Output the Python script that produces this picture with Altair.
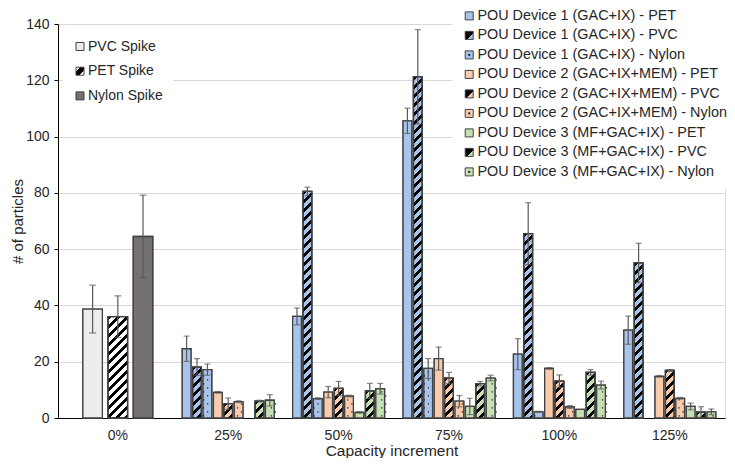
import altair as alt

# ---------------- data ----------------
categories = ["0%", "25%", "50%", "75%", "100%", "125%"]
device_categories = ["25%", "50%", "75%", "100%", "125%"]

spike_series = ["PVC Spike", "PET Spike", "Nylon Spike"]
spike_mean = [38.7, 36.0, 64.5]
spike_err = [8.5, 7.4, 14.7]

device_series = [
    "POU Device 1 (GAC+IX) - PET",
    "POU Device 1 (GAC+IX) - PVC",
    "POU Device 1 (GAC+IX) - Nylon",
    "POU Device 2 (GAC+IX+MEM) - PET",
    "POU Device 2 (GAC+IX+MEM) - PVC",
    "POU Device 2 (GAC+IX+MEM) - Nylon",
    "POU Device 3 (MF+GAC+IX) - PET",
    "POU Device 3 (MF+GAC+IX) - PVC",
    "POU Device 3 (MF+GAC+IX) - Nylon",
]

d1_pet = [24.6, 36.1, 105.6, 22.7, 31.2]
d1_pet_err = [4.5, 3.0, 4.5, 5.5, 5.0]
d1_pvc = [18.1, 80.5, 121.2, 65.5, 55.1]
d1_pvc_err = [3.0, 1.5, 16.8, 11.0, 7.0]
d1_nylon = [17.2, 6.9, 17.6, 2.2, 0.0]
d1_nylon_err = [2.0, 0.3, 3.5, 0.2, 0.0]
d2_pet = [9.1, 9.2, 21.1, 17.6, 14.8]
d2_pet_err = [0.3, 2.0, 4.1, 0.3, 0.3]
d2_pvc = [5.1, 10.5, 14.2, 13.1, 16.9]
d2_pvc_err = [2.0, 2.5, 2.0, 2.2, 0.3]
d2_nylon = [5.8, 7.8, 6.0, 3.9, 7.0]
d2_nylon_err = [0.3, 0.3, 2.0, 0.5, 0.3]
d3_pet = [0.0, 2.0, 4.1, 3.1, 4.1]
d3_pet_err = [0.0, 0.3, 2.9, 0.0, 1.2]
d3_pvc = [6.0, 9.6, 12.2, 16.2, 2.1]
d3_pvc_err = [0.3, 2.7, 0.8, 1.0, 1.9]
d3_nylon = [6.3, 10.4, 14.2, 11.7, 2.2]
d3_nylon_err = [2.0, 1.9, 1.0, 1.4, 1.0]

device_means = [d1_pet, d1_pvc, d1_nylon, d2_pet, d2_pvc, d2_nylon, d3_pet, d3_pvc, d3_nylon]
device_errs = [d1_pet_err, d1_pvc_err, d1_nylon_err, d2_pet_err, d2_pvc_err,
               d2_nylon_err, d3_pet_err, d3_pvc_err, d3_nylon_err]

# ---------------- styling ----------------
BLUE, ORANGE, GREEN = "#A9C4EB", "#F8CBAD", "#C5E0B4"
spike_colors = ["#EDEDED", "#FFFFFF", "#767171"]
device_colors = [BLUE, BLUE, BLUE, ORANGE, ORANGE, ORANGE, GREEN, GREEN, GREEN]
STROKE = "#404040"
ERR = "#595959"
TEXT = "#262626"
FONT = "Liberation Sans"

PLOT_W, PLOT_H = 667, 394
Y_MAX = 140
X_PO = 0.0209
SP_PI, SP_PO = 0.226, 0.804
DV_PI, DV_PO = 0.163, 0.889

band = PLOT_W / (6 + 2 * X_PO)
W_SPIKE = band / (3 - SP_PI + 2 * SP_PO) * (1 - SP_PI)
W_DEV = band / (9 - DV_PI + 2 * DV_PO) * (1 - DV_PI)
K = PLOT_H / Y_MAX  # px per unit (for pattern scaling)

# ---------------- table ----------------
records = []
for s, m, e in zip(spike_series, spike_mean, spike_err):
    records.append(dict(cat="0%", series=s, group="spike", value=m,
                        lo=round(m - e, 3), hi=round(m + e, 3)))
for s, ms, es in zip(device_series, device_means, device_errs):
    for c, m, e in zip(device_categories, ms, es):
        if m > 0:
            records.append(dict(cat=c, series=s, group="device", value=m,
                                lo=round(m - e, 3), hi=round(m + e, 3)))
data = alt.Data(values=records)


def stripe_expr(width, period=9.0, n=48, frac=0.45):
    stops = []
    for i in range(n):
        a, b, c = i / n, (i + frac) / n, (i + 1) / n
        stops += [f"{{offset:{a:.5f},color:'#000'}}", f"{{offset:{b:.5f},color:'#000'}}",
                  f"{{offset:{b:.5f},color:'rgba(0,0,0,0)'}}",
                  f"{{offset:{c:.5f},color:'rgba(0,0,0,0)'}}"]
    h = f"(datum.value*{K:.5f})"
    den = f"({width * width:.4f}+{h}*{h})"
    return (f"{{gradient:'linear',x1:0,y1:0,x2:{n * period * width:.4f}/{den},"
            f"y2:{n * period:.4f}*{h}/{den},stops:[{','.join(stops)}]}}")


def sym_stripe(base, a, b):
    return {"expr": (f"{{gradient:'linear',x1:0,y1:0,x2:1,y2:1,stops:["
                     f"{{offset:0,color:'{base}'}},{{offset:{a},color:'{base}'}},"
                     f"{{offset:{a},color:'#000'}},{{offset:{b},color:'#000'}},"
                     f"{{offset:{b},color:'{base}'}},{{offset:1,color:'{base}'}}]}}")}


def sym_dot(base):
    return {"expr": (f"{{gradient:'radial',x1:0.5,y1:0.5,r1:0,x2:0.5,y2:0.5,r2:0.5,stops:["
                     f"{{offset:0,color:'#222'}},{{offset:0.3,color:'#222'}},"
                     f"{{offset:0.3,color:'{base}'}},{{offset:1,color:'{base}'}}]}}")}


spike_legend_range = [spike_colors[0], sym_stripe("#FFFFFF", 0.3, 0.7), spike_colors[2]]
device_legend_range = []
for col in [BLUE, ORANGE, GREEN]:
    device_legend_range += [col, sym_stripe(col, 0.0, 0.6), sym_dot(col)]

# ---------------- encodings ----------------
x_enc = alt.X("cat:N", sort=categories,
              scale=alt.Scale(domain=categories, paddingInner=0, paddingOuter=X_PO, align=1),
              axis=alt.Axis(title="Capacity increment", labelAngle=0, ticks=False, tickSize=0,
                            labelPadding=10, labelFontSize=14, labelColor=TEXT, labelFont=FONT,
                            titleFontSize=15.5, titleFont=FONT, titleColor=TEXT, titleFontWeight="normal",
                            titlePadding=1, domainColor="#000", domainWidth=1, grid=False))
y_scale = alt.Scale(domain=[0, Y_MAX], nice=False)
y_axis = alt.Axis(title="# of particles", values=list(range(0, 141, 20)), tickSize=4,
                  tickColor="#000", labelPadding=5, labelFontSize=14, labelColor=TEXT,
                  labelFont=FONT, titleFontSize=15, titleFont=FONT, titleColor=TEXT,
                  titleFontWeight="normal", titlePadding=0, domainColor="#000", domainWidth=1,
                  gridColor="#D9D9D9", gridWidth=1)


def Y(field):
    return alt.Y(field, scale=y_scale, axis=y_axis)


spike_off = alt.XOffset("series:N", sort=spike_series,
                        scale=alt.Scale(domain=spike_series, paddingInner=SP_PI, paddingOuter=SP_PO))
dev_off = alt.XOffset("series:N", sort=device_series,
                      scale=alt.Scale(domain=device_series, paddingInner=DV_PI, paddingOuter=DV_PO))

all_series = spike_series + device_series
all_colors = spike_colors + device_colors

base = alt.Chart(data)
spike = base.transform_filter("datum.group == 'spike'")
dev = base.transform_filter("datum.group == 'device'")

common_legend = dict(title=None, orient="none", direction="vertical", symbolType="square",
                     symbolSize=64, symbolStrokeColor=STROKE, symbolStrokeWidth=1,
                     labelFont=FONT, labelColor=TEXT, labelOffset=1, labelLimit=500,
                     fillColor="white")

leg_spike = spike.mark_bar(stroke=STROKE, strokeWidth=1.3).encode(
    x=x_enc, xOffset=spike_off, y=Y("value:Q"),
    fill=alt.Fill("series:N", sort=spike_series,
                  scale=alt.Scale(domain=spike_series, range=spike_legend_range),
                  legend=alt.Legend(legendX=5, legendY=5.5, padding=10, rowPadding=10.7,
                                    labelFontSize=14, **common_legend)))

leg_dev = dev.mark_bar(stroke=STROKE, strokeWidth=1.3).encode(
    x=x_enc, xOffset=dev_off, y=Y("value:Q"),
    fill=alt.Fill("series:N", sort=device_series,
                  scale=alt.Scale(domain=device_series, range=device_legend_range),
                  legend=alt.Legend(legendX=394, legendY=-25.3, padding=10, rowPadding=4.5,
                                    labelFontSize=14.4, **common_legend)))

color_enc = alt.Color("series:N", scale=alt.Scale(domain=all_series, range=all_colors), legend=None)

bars_spike = spike.mark_bar(stroke=STROKE, strokeWidth=1.3).encode(
    x=x_enc, xOffset=spike_off, y=Y("value:Q"), color=color_enc)
bars_dev = dev.mark_bar(stroke=STROKE, strokeWidth=1.3).encode(
    x=x_enc, xOffset=dev_off, y=Y("value:Q"), color=color_enc)

stripes_spike = spike.transform_filter("datum.series == 'PET Spike'").transform_calculate(
    grad=stripe_expr(W_SPIKE)).mark_bar(stroke=STROKE, strokeWidth=1.3).encode(
    x=x_enc, xOffset=spike_off, y=Y("value:Q"), color=alt.Color("grad:N", scale=None))
stripes_dev = dev.transform_filter("indexof(datum.series, 'PVC') >= 0").transform_calculate(
    grad=stripe_expr(W_DEV)).mark_bar(stroke=STROKE, strokeWidth=1.3).encode(
    x=x_enc, xOffset=dev_off, y=Y("value:Q"), color=alt.Color("grad:N", scale=None))

DSTEP = 8.0 / K
DOT_A = "M-0.65,-0.15h0.3v0.3h-0.3Z"
DOT_B = "M0.35,-0.15h0.3v0.3h-0.3Z"


def dots(start, shape):
    return dev.transform_filter("indexof(datum.series, 'Nylon') >= 0").transform_calculate(
        dots=f"sequence({start:.4f}, datum.value - 0.55, {DSTEP:.4f})").transform_flatten(
        ["dots"]).mark_point(shape=shape, size=64, filled=True, color="#1a1a1a", opacity=1).encode(
        x=x_enc, xOffset=dev_off, y=Y("dots:Q"))


dots_a = dots(0.75, DOT_A)
dots_b = dots(0.75 + DSTEP / 2, DOT_B)


def errs(src, off, cap):
    r = src.mark_rule(color=ERR, strokeWidth=1.2).encode(
        x=x_enc, xOffset=off, y=Y("lo:Q"), y2="hi:Q")
    t1 = src.mark_tick(color=ERR, thickness=1.2, size=cap).encode(x=x_enc, xOffset=off, y=Y("hi:Q"))
    t2 = src.mark_tick(color=ERR, thickness=1.2, size=cap).encode(x=x_enc, xOffset=off, y=Y("lo:Q"))
    return [r, t1, t2]


layers = ([leg_spike, leg_dev, bars_spike, stripes_spike, bars_dev, stripes_dev, dots_a, dots_b]
          + errs(spike, spike_off, 7) + errs(dev.transform_filter("datum.hi > datum.lo"), dev_off, 6))

chart = alt.layer(*layers).resolve_scale(xOffset="independent", fill="independent").properties(
    width=PLOT_W, height=PLOT_H,
    autosize=alt.AutoSizeParams(type="none"),
    padding={"left": 50, "top": 16, "right": 2, "bottom": 40},
    background="white",
).configure_view(stroke=None).configure(font=FONT)

chart.save("out.html", embed_options={"renderer": "svg", "actions": False})
